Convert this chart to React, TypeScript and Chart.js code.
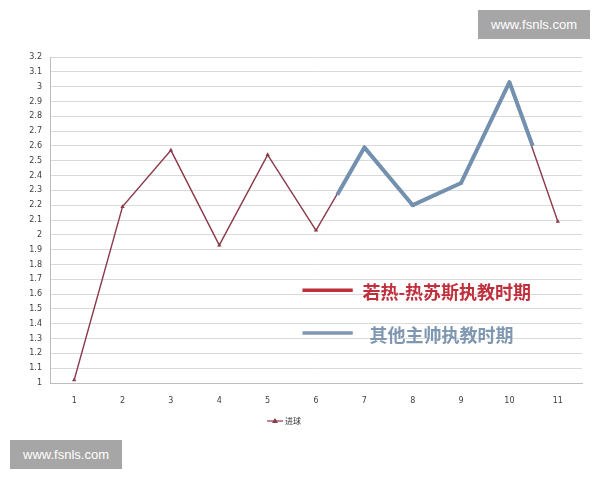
import { useEffect, useRef } from "react";
import { Chart, registerables } from "chart.js";

Chart.register(...registerables);

// match numbers 1..11 along the bottom
const categories = [1, 2, 3, 4, 5, 6, 7, 8, 9, 10, 11];
// 进球 per match
const goals = [1.02, 2.19, 2.57, 1.93, 2.54, 2.03, 2.59, 2.2, 2.35, 3.03, 2.09];
// the thick blue stroke painted over the "other coaches" stretch
const otherCoachX = [6.44, 7, 8, 9, 10, 10.48];
const otherCoachY = [2.27, 2.59, 2.2, 2.35, 3.03, 2.6];
const yTicks = [
  1, 1.1, 1.2, 1.3, 1.4, 1.5, 1.6, 1.7, 1.8, 1.9, 2, 2.1, 2.2, 2.3, 2.4, 2.5,
  2.6, 2.7, 2.8, 2.9, 3, 3.1, 3.2,
];
const seriesLabel = "进球";
const notes = [
  { text: "若热-热苏斯执教时期", color: "#c0303c", y: 1.62 },
  { text: "其他主帅执教时期", color: "#7f97b0", y: 1.33 },
];

const LINE_RED = "#8b3a4a";
const LINE_BLUE = "#7390ae";

const notesPlugin = {
  id: "notes",
  afterDraw(chart: Chart) {
    const { ctx, scales } = chart;
    const xs = scales.x;
    const ys = scales.y;
    ctx.save();
    // in-plot notes
    notes.forEach((n) => {
      const y = ys.getPixelForValue(n.y);
      ctx.strokeStyle = n.color;
      ctx.lineWidth = 3.5;
      ctx.beginPath();
      ctx.moveTo(xs.getPixelForValue(5.72), y - 1);
      ctx.lineTo(xs.getPixelForValue(6.76), y - 1);
      ctx.stroke();
      ctx.fillStyle = n.color;
      ctx.font = "bold 18px 'Noto Sans CJK SC'";
      ctx.textBaseline = "middle";
      ctx.textAlign = "left";
      ctx.fillText(n.text, xs.getPixelForValue(6.96) + (n.y < 1.5 ? 7 : 0), y + 1);
    });
    // bottom legend
    const ly = chart.chartArea.bottom + 38;
    const lx = 267;
    ctx.strokeStyle = LINE_RED;
    ctx.lineWidth = 1.2;
    ctx.beginPath();
    ctx.moveTo(lx, ly);
    ctx.lineTo(lx + 16, ly);
    ctx.stroke();
    ctx.fillStyle = LINE_RED;
    ctx.beginPath();
    ctx.moveTo(lx + 8, ly - 3);
    ctx.lineTo(lx + 11, ly + 2);
    ctx.lineTo(lx + 5, ly + 2);
    ctx.closePath();
    ctx.fill();
    ctx.fillStyle = "#333";
    ctx.font = "8px 'Noto Sans CJK SC'";
    ctx.textBaseline = "middle";
    ctx.fillText(seriesLabel, lx + 18, ly);
    ctx.restore();
  },
};

function GoalsChart() {
  const canvasRef = useRef<HTMLCanvasElement>(null);
  const chartRef = useRef<Chart | null>(null);

  useEffect(() => {
    if (!canvasRef.current) return;
    if (chartRef.current) chartRef.current.destroy();

    chartRef.current = new Chart(canvasRef.current, {
      type: "line",
      data: {
        datasets: [
          {
            label: "overlay",
            data: otherCoachX.map((x, i) => ({ x, y: otherCoachY[i] })),
            borderColor: LINE_BLUE,
            borderWidth: 4,
            borderJoinStyle: "round",
            pointRadius: 0,
            tension: 0,
            order: 0,
          },
          {
            label: seriesLabel,
            data: categories.map((x, i) => ({ x, y: goals[i] })),
            borderColor: LINE_RED,
            backgroundColor: LINE_RED,
            borderWidth: 1.4,
            pointStyle: "triangle",
            pointRadius: 2.5,
            pointBorderWidth: 0,
            tension: 0,
            order: 1,
          },
        ],
      },
      options: {
        animation: false,
        responsive: true,
        maintainAspectRatio: false,
        layout: { padding: { top: 57, right: 18, bottom: 0, left: 0 } },
        plugins: {
          legend: { display: false },
          tooltip: { enabled: false },
        },
        scales: {
          x: {
            type: "linear",
            min: 0.5,
            max: 11.5,
            afterBuildTicks: (s: any) => {
              s.ticks = categories.map((v) => ({ value: v }));
            },
            afterFit: (s: any) => {
              s.height = 97;
            },
            grid: { display: false, drawTicks: false },
            border: { display: true, color: "#bdbdbd", width: 1 },
            ticks: {
              padding: 13,
              color: "#404040",
              font: { family: "DejaVu Sans", size: 8 },
              callback: (v: any) => String(v),
            },
          },
          y: {
            min: 1,
            max: 3.2,
            afterBuildTicks: (s: any) => {
              s.ticks = yTicks.map((v) => ({ value: v }));
            },
            afterFit: (s: any) => {
              s.width = 50;
            },
            grid: { color: "#dadada", lineWidth: 1, drawTicks: false },
            border: { display: true, color: "#bdbdbd", width: 1 },
            ticks: {
              padding: 8,
              color: "#404040",
              font: { family: "DejaVu Sans", size: 8 },
              callback: (v: any) => String(Number(Number(v).toFixed(1))),
            },
          },
        },
      },
      plugins: [notesPlugin],
    });

    return () => {
      if (chartRef.current) {
        chartRef.current.destroy();
        chartRef.current = null;
      }
    };
  }, []);

  return (
    <div style={{ position: "absolute", left: 0, top: 0, width: 600, height: 480 }}>
      <canvas ref={canvasRef} />
    </div>
  );
}

const stamp = {
  position: "absolute" as const,
  width: 112,
  height: 29,
  background: "#a6a6a6",
  color: "#fff",
  fontFamily: "'Liberation Sans', Arial, sans-serif",
  fontSize: 13,
  lineHeight: "29px",
  textAlign: "center" as const,
};

export default function App() {
  return (
    <div style={{ position: "absolute", left: 0, top: 0, width: 600, height: 480, background: "#fff" }}>
      <GoalsChart />
      <div style={{ ...stamp, left: 478, top: 10 }}>www.fsnls.com</div>
      <div style={{ ...stamp, left: 10, top: 440 }}>www.fsnls.com</div>
    </div>
  );
}
